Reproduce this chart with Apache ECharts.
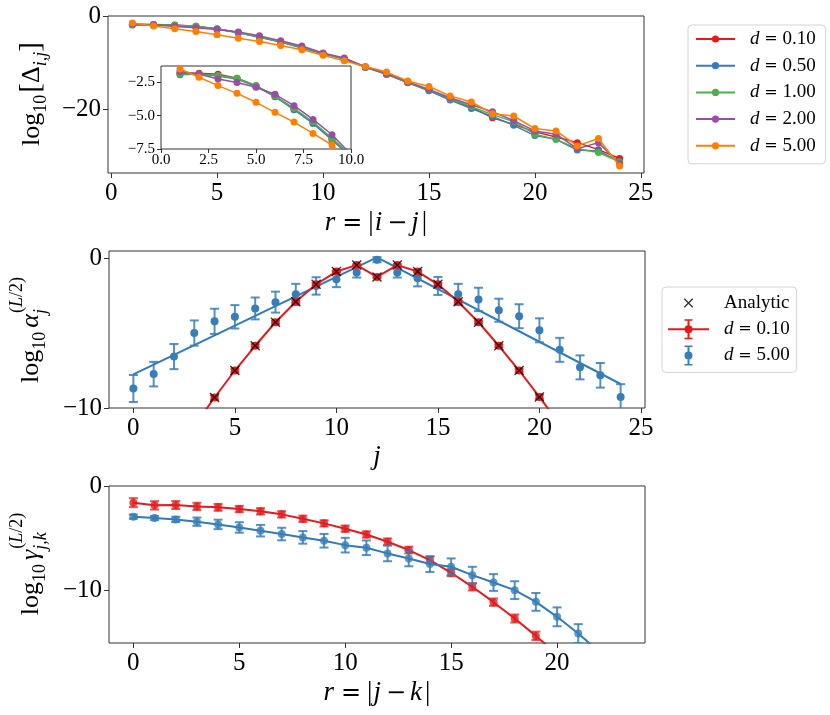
<!DOCTYPE html>
<html><head><meta charset="utf-8">
<script src="https://cdn.jsdelivr.net/npm/echarts@6/dist/echarts.min.js"></script>
<style>html,body{margin:0;padding:0;background:#fff}#c{width:830px;height:715px}</style>
</head><body><div id="c"></div><script>
const FONT = 'Liberation Serif';
const OPF = 'DejaVu Serif';

// ---------- Panel 1: log10[Delta_{i,j}] vs r = |i-j| ----------
const r1 = [1,2,3,4,5,6,7,8,9,10,11,12,13,14,15,16,17,18,19,20,21,22,23,24];
const dNames1 = ['0.10','0.50','1.00','2.00','5.00'];
const logDelta_d010 = [-1.83,-1.83,-1.9,-2.2,-2.78,-3.55,-4.5,-5.52,-6.75,-8.0,-9.15,-10.9,-12.4,-14.2,-15.9,-17.8,-19.5,-21.8,-23.2,-24.8,-25.9,-27.1,-28.6,-30.5];
const logDelta_d050 = [-1.93,-1.88,-2.03,-2.25,-2.8,-3.58,-4.55,-5.58,-6.83,-8.1,-9.2,-11.0,-12.5,-14.3,-16.0,-18.0,-19.8,-21.5,-23.4,-25.6,-26.4,-28.7,-28.9,-31.2];
const logDelta_d100 = [-1.88,-1.88,-2.0,-2.2,-2.75,-3.53,-4.45,-5.48,-6.7,-8.0,-9.1,-10.9,-12.4,-14.2,-15.8,-17.7,-19.4,-21.1,-22.6,-25.3,-26.4,-28.4,-29.2,-31.2];
const logDelta_d200 = [-1.7,-1.88,-2.25,-2.52,-2.88,-3.4,-4.25,-5.28,-6.43,-7.9,-9.0,-10.9,-12.3,-14.1,-15.7,-17.5,-19.0,-20.5,-22.4,-24.6,-25.3,-28.4,-27.1,-31.6];
const logDelta_d500 = [-1.5,-2.12,-2.75,-3.33,-4.0,-4.75,-5.48,-6.33,-7.2,-8.4,-9.6,-10.8,-12.0,-13.9,-15.1,-17.1,-18.4,-20.9,-21.4,-24.1,-24.6,-27.8,-26.2,-32.1];
const logDeltaAll = [logDelta_d010, logDelta_d050, logDelta_d100, logDelta_d200, logDelta_d500];
const colors1 = ['#e41a1c','#377eb8','#4daf4a','#984ea3','#ff7f00'];
const xTicks1 = [0,5,10,15,20,25];
const yTicks1 = [-20,0];
const xTicksInset = [0,2.5,5,7.5,10];
const yTicksInset = [-7.5,-5,-2.5];

// ---------- Panel 2: log10 alpha_j^(L/2) vs j ----------
const j2 = [0,1,2,3,4,5,6,7,8,9,10,11,12,13,14,15,16,17,18,19,20,21,22,23,24];
const alpha_d500 = [-8.7,-7.74,-6.57,-5.0,-4.22,-3.92,-3.36,-2.94,-2.42,-1.86,-1.41,-0.96,-0.11,-0.96,-1.35,-1.86,-2.42,-2.76,-3.48,-3.88,-4.82,-6.12,-7.29,-7.82,-9.26];
const alpha_d500_err = [0.9,0.82,0.84,0.84,0.84,0.78,0.73,0.7,0.7,0.58,0.53,0.34,0.17,0.34,0.54,0.6,0.7,0.78,0.77,0.8,0.8,0.8,0.8,0.82,0.85];
const j2red = [3,4,5,6,7,8,9,10,11,12,13,14,15,16,17,18,19,20,21];
const alpha_d010 = [-11.2,-9.3,-7.5,-5.85,-4.28,-2.91,-1.75,-0.9,-0.47,-1.26,-0.47,-0.9,-1.75,-2.91,-4.28,-5.85,-7.5,-9.26,-11.1];
const alpha_d010_err = [0.15,0.15,0.12,0.1,0.1,0.08,0.08,0.06,0.06,0.06,0.06,0.06,0.08,0.08,0.1,0.1,0.12,0.15,0.15];
const analytic_j = [3,4,5,6,7,8,9,10,11,12,13,14,15,16,17,18,19,20,21];
const analytic_alpha = [-11.2,-9.3,-7.5,-5.85,-4.28,-2.91,-1.75,-0.9,-0.47,-1.26,-0.47,-0.9,-1.75,-2.91,-4.28,-5.85,-7.5,-9.26,-11.1];
const alphaLine_j = [0,12,24];
const alphaLine_d500 = [-7.76,0.05,-8.4];
const xTicks2 = [0,5,10,15,20,25];
const yTicks2 = [-10,0];

// ---------- Panel 3: log10 gamma_{j,k}^(L/2) vs r = |j-k| ----------
const r3red = [0,1,2,3,4,5,6,7,8,9,10,11,12,13,14,15,16,17,18,19];
const gamma_d010 = [-1.59,-1.85,-1.82,-1.95,-2.04,-2.2,-2.42,-2.71,-3.13,-3.57,-4.08,-4.63,-5.33,-6.12,-7.08,-8.29,-9.63,-11.1,-12.66,-14.32];
const gamma_d010_err = [0.43,0.4,0.38,0.35,0.33,0.3,0.3,0.3,0.3,0.3,0.3,0.3,0.32,0.32,0.33,0.33,0.35,0.35,0.38,0.4];
const r3redLine = [0,1,2,3,4,5,6,7,8,9,10,11,12,13,14,15,16,17,18,19,20];
const gammaLine_d010 = [-1.59,-1.85,-1.82,-1.95,-2.04,-2.2,-2.42,-2.71,-3.13,-3.57,-4.08,-4.63,-5.33,-6.12,-7.08,-8.29,-9.63,-11.1,-12.66,-14.32,-16.07];
const r3blue = [0,1,2,3,4,5,6,7,8,9,10,11,12,13,14,15,16,17,18,19,20,21];
const gamma_d500 = [-2.93,-3.06,-3.19,-3.41,-3.67,-3.96,-4.27,-4.59,-4.91,-5.23,-5.65,-5.9,-6.44,-6.92,-7.46,-7.72,-8.52,-9.22,-9.95,-11.07,-12.5,-14.1];
const gamma_d500_err = [0.2,0.2,0.25,0.4,0.45,0.5,0.55,0.6,0.6,0.65,0.7,0.7,0.75,0.75,0.75,0.8,0.8,0.8,0.85,0.85,0.9,0.9];
const r3blueLine = [0,1,2,3,4,5,6,7,8,9,10,11,12,13,14,15,16,17,18,19,20,21,22];
const gammaLine_d500 = [-2.93,-3.06,-3.19,-3.41,-3.67,-3.96,-4.27,-4.59,-4.91,-5.23,-5.65,-5.9,-6.44,-6.92,-7.46,-7.72,-8.52,-9.22,-9.95,-11.07,-12.5,-14.1,-15.85];
const xTicks3 = [0,5,10,15,20];
const yTicks3 = [-10,0];

const RED = '#e41a1c', BLUE = '#377eb8';

// ---------- helpers ----------
const zip = (xs, ys) => xs.map((x, i) => [x, ys[i]]);
const fmtInt = v => (v < 0 ? '\u2212' : '') + Math.abs(v);
const fmt1 = v => (v < 0 ? '\u2212' : '') + Math.abs(v).toFixed(1);

function xPath(cx, cy, h, w) {
  const t = w / 2 / Math.SQRT2;
  const A = [[cx-h+t,cy-h-t],[cx+h+t,cy+h-t],[cx+h-t,cy+h+t],[cx-h-t,cy-h+t]];
  const B = [[cx-h+t,cy+h+t],[cx-h-t,cy+h-t],[cx+h-t,cy-h-t],[cx+h+t,cy-h+t]];
  const p = pts => 'M' + pts.map(q => q[0].toFixed(2) + ',' + q[1].toFixed(2)).join('L') + 'Z';
  return p(A) + p(B);
}
function rectP(x0, y0, x1, y1) { return `M${x0},${y0}L${x1},${y0}L${x1},${y1}L${x0},${y1}Z`; }
function circP(cx, cy, r) { return `M${cx+r},${cy}A${r},${r} 0 1,1 ${cx-r},${cy}A${r},${r} 0 1,1 ${cx+r},${cy}Z`; }
const ANCH = 'M0,0M41,20';
const iconAnalytic = 'path://' + ANCH + xPath(20.5, 10, 4.2, 1.4);
const iconRedEB = 'path://' + ANCH + rectP(0,9,41,11) + rectP(19.5,0.5,21.5,19.5) + rectP(16.5,0,24.5,1.5) + rectP(16.5,18.5,24.5,20) + circP(20.5,10,4);
const iconBlueEB = 'path://' + ANCH + rectP(19.5,0.5,21.5,19.5) + rectP(16.5,0,24.5,1.5) + rectP(16.5,18.5,24.5,20) + circP(20.5,10,4);
const xSymbol = 'path://' + xPath(5, 5, 5, 1.5);

function xAx(gi, min, max, ticks, fmt, fs, tl, margin) {
  return { type:'value', gridIndex:gi, min, max,
    axisLine:{show:false, onZero:false},
    axisTick:{show:true, length:tl, lineStyle:{color:'#333', width:1}, customValues:ticks},
    axisLabel:{customValues:ticks, formatter:fmt, fontFamily:FONT, fontSize:fs, color:'#000', margin},
    splitLine:{show:false} };
}

function errSeries(name, xi, xs, ys, es, color, capW, lw, op, z) {
  return { type:'custom', name, xAxisIndex:xi, yAxisIndex:xi, clip:true, silent:true, z,
    data: xs.map((x, i) => [x, ys[i] - es[i], ys[i] + es[i]]),
    encode:{x:0, y:[1,2]},
    renderItem(params, api) {
      const x = api.value(0);
      const p1 = api.coord([x, api.value(1)]), p2 = api.coord([x, api.value(2)]);
      const st = {stroke: color, lineWidth: lw, opacity: op};
      return {type:'group', children:[
        {type:'line', shape:{x1:p1[0], y1:p1[1], x2:p2[0], y2:p2[1]}, style:st},
        {type:'line', shape:{x1:p1[0]-capW/2, y1:p1[1], x2:p1[0]+capW/2, y2:p1[1]}, style:st},
        {type:'line', shape:{x1:p2[0]-capW/2, y1:p2[1], x2:p2[0]+capW/2, y2:p2[1]}, style:st}
      ]};
    } };
}

const measCtx = document.createElement('canvas').getContext('2d');
function mathText(parts, cx, cy, rotation) {
  let x = 0, maxX = 0, markX = 0;
  const kids = [];
  parts.forEach(p => {
    if (p.mark) markX = x;
    if (p.reset) x = markX;
    if (!p.t) return;
    x += p.dx || 0;
    const fam = p.f || FONT, size = p.s || 26, fst = p.it ? 'italic' : 'normal';
    measCtx.font = fst + ' ' + size + 'px "' + fam + '"';
    const w = measCtx.measureText(p.t).width;
    kids.push({type:'text', x, y:(p.dy || 0) - 0.34 * size, silent:true,
      style:{text:p.t, fontFamily:fam, fontSize:size, fontStyle:fst, fill:'#000', align:'left', verticalAlign:'middle'}});
    x += w; maxX = Math.max(maxX, x);
  });
  kids.forEach(k => { k.x -= maxX / 2; });
  return {type:'group', x:cx, y:cy, rotation:rotation || 0, silent:true, children:kids};
}

// ---------- series ----------
const series = [];
dNames1.forEach((d, k) => {
  series.push({ type:'line', name:'p1_' + d, xAxisIndex:0, yAxisIndex:0, data:zip(r1, logDeltaAll[k]),
    symbol:'circle', symbolSize:7, color:colors1[k], lineStyle:{width:1.5, color:colors1[k]},
    itemStyle:{color:colors1[k]}, z:2 + k * 0.01 });
});
dNames1.forEach((d, k) => {
  series.push({ type:'line', name:'in_' + d, xAxisIndex:1, yAxisIndex:1, data:zip(r1, logDeltaAll[k]),
    symbol:'circle', symbolSize:7, color:colors1[k], lineStyle:{width:1.5, color:colors1[k]},
    itemStyle:{color:colors1[k]}, clip:true, z:3 + k * 0.01 });
});
// panel 2
series.push({ type:'line', name:'p2_line5', xAxisIndex:2, yAxisIndex:2, data:zip(alphaLine_j, alphaLine_d500),
  symbol:'none', color:'#2f7bbb', lineStyle:{width:2, color:'#2f7bbb'}, clip:true, z:2 });
series.push(errSeries('p2_err5', 2, j2, alpha_d500, alpha_d500_err, BLUE, 9, 2, 0.85, 2.1));
series.push({ type:'scatter', name:'p2_5.00', xAxisIndex:2, yAxisIndex:2, data:zip(j2, alpha_d500),
  symbol:'circle', symbolSize:8, color:BLUE, itemStyle:{color:BLUE, opacity:1}, clip:true, z:2.2 });
series.push(errSeries('p2_err1', 2, j2red, alpha_d010, alpha_d010_err, RED, 9, 2, 0.8, 2.3));
series.push({ type:'line', name:'p2_0.10', xAxisIndex:2, yAxisIndex:2, data:zip(j2red, alpha_d010),
  symbol:'circle', symbolSize:8, showAllSymbol:true, color:RED, lineStyle:{width:2, color:RED}, itemStyle:{color:RED}, clip:true, z:2.4 });
series.push({ type:'scatter', name:'Analytic', xAxisIndex:2, yAxisIndex:2, data:zip(analytic_j, analytic_alpha),
  symbol:xSymbol, symbolSize:10, color:'#000', itemStyle:{color:'#000'}, clip:true, z:2.5 });
// panel 3
series.push(errSeries('p3_err1', 3, r3red, gamma_d010, gamma_d010_err, RED, 9, 2, 0.75, 2.0));
series.push({ type:'line', name:'p3_line1', xAxisIndex:3, yAxisIndex:3, data:zip(r3redLine, gammaLine_d010),
  symbol:'none', color:RED, lineStyle:{width:2, color:RED}, clip:true, z:2.05 });
series.push({ type:'scatter', name:'p3_pts1', xAxisIndex:3, yAxisIndex:3, data:zip(r3red, gamma_d010),
  symbol:'circle', symbolSize:8, color:RED, itemStyle:{color:RED}, clip:true, z:2.1 });
series.push(errSeries('p3_err5', 3, r3blue, gamma_d500, gamma_d500_err, BLUE, 9, 2, 0.85, 2.2));
series.push({ type:'line', name:'p3_line5', xAxisIndex:3, yAxisIndex:3, data:zip(r3blueLine, gammaLine_d500),
  symbol:'none', color:'#2f7bbb', lineStyle:{width:2, color:'#2f7bbb'}, clip:true, z:2.25 });
series.push({ type:'scatter', name:'p3_pts5', xAxisIndex:3, yAxisIndex:3, data:zip(r3blue, gamma_d500),
  symbol:'circle', symbolSize:8, color:BLUE, itemStyle:{color:BLUE}, clip:true, z:2.3 });

const legendText = {fontFamily:FONT, fontSize:19, color:'#000', lineHeight:20,
  rich:{ g:{width:10, lineHeight:20}, i:{fontStyle:'italic', fontFamily:FONT, fontSize:19, lineHeight:20},
         e:{fontFamily:OPF, fontSize:16, lineHeight:20} } };

const gridBase = {show:true, borderColor:'#333', borderWidth:1, outerBoundsMode:'none', containLabel:false};

const option = {
  animation:false,
  backgroundColor:'#fff',
  grid:[
    Object.assign({left:108, top:16, width:536, height:157}, gridBase),
    Object.assign({left:161, top:66, width:190, height:83, backgroundColor:'#fff'}, gridBase),
    Object.assign({left:109, top:251, width:536, height:157}, gridBase),
    Object.assign({left:109, top:486, width:536, height:157}, gridBase)
  ],
  xAxis:[
    xAx(0, -0.15, 25.15, xTicks1, fmtInt, 25, 5, 8),
    xAx(1, 0, 10, xTicksInset, fmt1, 15, 4, 4),
    xAx(2, -1.2, 25.2, xTicks2, fmtInt, 25, 5, 8),
    xAx(3, -1.15, 24.15, xTicks3, fmtInt, 25, 5, 8)
  ],
  yAxis:[
    xAx(0, -33.6, 0, yTicks1, fmtInt, 25, 5, 7),
    xAx(1, -7.5, -1.28, yTicksInset, fmt1, 15, 4, 6),
    xAx(2, -10, 0.47, yTicks2, fmtInt, 25, 5, 7),
    xAx(3, -15, 0, yTicks3, fmtInt, 25, 5, 7)
  ],
  legend:[
    { orient:'vertical', left:688, top:25, selectedMode:false,
      data: dNames1.map(d => 'p1_' + d),
      itemWidth:39, itemHeight:9, itemGap:6.7, padding:[4,10,8,7],
      backgroundColor:'#fff', borderColor:'#d4d4d4', borderWidth:1, borderRadius:4,
      itemStyle:{borderWidth:0},
      textStyle: legendText,
      formatter: name => '{g| }{i|d} {e|=} ' + name.slice(3) },
    { orient:'vertical', left:662, top:287, selectedMode:false,
      data:[{name:'Analytic', icon:iconAnalytic}, {name:'p2_0.10', icon:iconRedEB}, {name:'p2_5.00', icon:iconBlueEB}],
      itemWidth:41, itemHeight:20, itemGap:6.2, padding:[6,7,7,6],
      backgroundColor:'#fff', borderColor:'#d4d4d4', borderWidth:1, borderRadius:4,
      itemStyle:{borderWidth:0},
      textStyle: legendText,
      formatter: name => name === 'Analytic' ? '{g| }Analytic' : '{g| }{i|d} {e|=} ' + name.slice(3) }
  ],
  graphic:[
    // y-axis titles
    mathText([{t:'log'},{t:'10',s:18,dy:6},{t:'[',s:29,dx:2},{t:'\u0394'},{t:'i,j',s:18,it:true,dy:6},{t:']',s:29}], 41, 94, Math.PI/2),
    mathText([{t:'log'},{t:'10',s:18,dy:6},{t:'\u03b1',it:true,dx:4},{mark:true},{t:'j',s:18,it:true,dy:7},{reset:true},
              {t:'(',s:18,dy:-17,dx:1},{t:'L',s:18,it:true,dy:-17},{t:'/2)',s:18,dy:-17}], 40, 330, Math.PI/2),
    mathText([{t:'log'},{t:'10',s:18,dy:6},{t:'\u03b3',it:true,dx:4},{mark:true},{t:'j,k',s:18,it:true,dy:7},{reset:true},
              {t:'(',s:18,dy:-17,dx:1},{t:'L',s:18,it:true,dy:-17},{t:'/2)',s:18,dy:-17}], 40, 564, Math.PI/2),
    // x-axis titles
    mathText([{t:'r',s:27,it:true},{t:'=',s:24,f:OPF,dx:7},{t:'|',s:27,dx:6},{t:'i',s:27,it:true,dx:1},
              {t:'\u2212',s:24,f:OPF,dx:5},{t:'j',s:27,it:true,dx:4},{t:'|',s:27,dx:3}], 376, 232, 0),
    mathText([{t:'j',s:27,it:true}], 377, 466, 0),
    mathText([{t:'r',s:27,it:true},{t:'=',s:24,f:OPF,dx:7},{t:'|',s:27,dx:6},{t:'j',s:27,it:true,dx:1},
              {t:'\u2212',s:24,f:OPF,dx:5},{t:'k',s:27,it:true,dx:4},{t:'|',s:27,dx:3}], 377, 702, 0)
  ],
  series
};

const chart = echarts.init(document.getElementById('c'), null, {renderer:'canvas'});
chart.setOption(option);
</script></body></html>
